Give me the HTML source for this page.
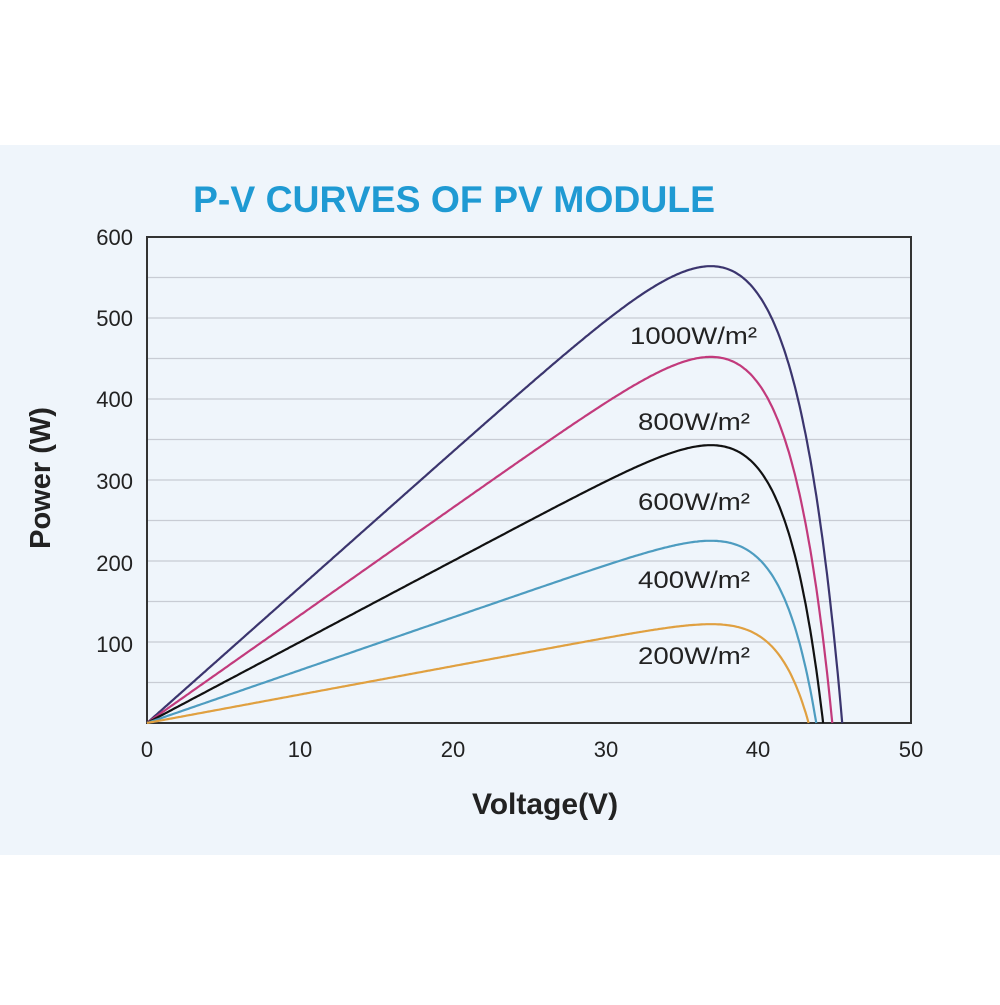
<!DOCTYPE html>
<html><head><style>
body{margin:0;background:#fff;width:1000px;height:1000px;overflow:hidden;font-family:"Liberation Sans",sans-serif}
</style></head><body>
<svg id="s" width="1000" height="1000" xmlns="http://www.w3.org/2000/svg">
<rect x="0" y="0" width="1000" height="1000" fill="#fff"/>
<rect x="0" y="145" width="1000" height="710" fill="#eff5fb"/>
<text x="454" y="212" text-anchor="middle" font-size="37" font-weight="bold" fill="#1f9ad3" font-family="Liberation Sans, sans-serif" textLength="522" lengthAdjust="spacingAndGlyphs">P-V CURVES OF PV MODULE</text>
<g id="grid" stroke="#c8ccd4" stroke-width="1.3"></g>
<rect x="147" y="237" width="764" height="486" fill="none" stroke="#333" stroke-width="2"/>
<g font-size="22" fill="#222" font-family="Liberation Sans, sans-serif">
<text x="133" y="245" text-anchor="end">600</text>
<text x="133" y="326" text-anchor="end">500</text>
<text x="133" y="407" text-anchor="end">400</text>
<text x="133" y="489" text-anchor="end">300</text>
<text x="133" y="571" text-anchor="end">200</text>
<text x="133" y="652" text-anchor="end">100</text>
<text x="147" y="757" text-anchor="middle">0</text>
<text x="300" y="757" text-anchor="middle">10</text>
<text x="453" y="757" text-anchor="middle">20</text>
<text x="606" y="757" text-anchor="middle">30</text>
<text x="758" y="757" text-anchor="middle">40</text>
<text x="911" y="757" text-anchor="middle">50</text>
</g>
<text x="545" y="814" text-anchor="middle" font-size="30" font-weight="bold" fill="#222">Voltage(V)</text>
<text transform="translate(50,478) rotate(-90)" text-anchor="middle" font-size="29" font-weight="bold" fill="#222">Power (W)</text>
<g id="curves" fill="none" stroke-width="2.2"></g>
<g font-size="24" fill="#222">
<text x="630" y="344" textLength="127" lengthAdjust="spacingAndGlyphs">1000W/m²</text>
<text x="638" y="430" textLength="112" lengthAdjust="spacingAndGlyphs">800W/m²</text>
<text x="638" y="510" textLength="112" lengthAdjust="spacingAndGlyphs">600W/m²</text>
<text x="638" y="588" textLength="112" lengthAdjust="spacingAndGlyphs">400W/m²</text>
<text x="638" y="664" textLength="112" lengthAdjust="spacingAndGlyphs">200W/m²</text>
</g>
</svg>
<script>
var NS="http://www.w3.org/2000/svg";
var g=document.getElementById("grid");
for(var p=50;p<600;p+=50){var y=723-p*0.81;var l=document.createElementNS(NS,"line");
l.setAttribute("x1",147);l.setAttribute("x2",911);l.setAttribute("y1",y);l.setAttribute("y2",y);g.appendChild(l);}
function X(v){return 147+v*15.28}
function Y(p){return 723-p*0.81}
var cs=[[564,45.5,"#3b356e"],[452,44.85,"#c23a7c"],[343,44.25,"#111"],[225,43.8,"#4d9cc0"],[122,43.3,"#e0a040"]];
var cg=document.getElementById("curves");
cs.forEach(function(c){
 var Pm=c[0],Voc=c[1],vp=36.9;
 var lo=0.5,hi=10;
 for(var i=0;i<60;i++){var a=(lo+hi)/2;var f=1-Math.exp((vp-Voc)/a)*(1+vp/a);if(f>0)lo=a;else hi=a;}
 var a=(lo+hi)/2;
 var pm=vp*(1-Math.exp((vp-Voc)/a));var k=Pm/pm;
 var d="";
 for(var v=0;v<=Voc+0.001;v+=0.1){var P=k*v*(1-Math.exp((v-Voc)/a));if(P<0)P=0;d+=(d?"L":"M")+X(v).toFixed(1)+","+Y(P).toFixed(1);}
 d+="L"+X(Voc).toFixed(1)+","+Y(0);
 var pa=document.createElementNS(NS,"path");pa.setAttribute("d",d);pa.setAttribute("stroke",c[2]);cg.appendChild(pa);
});
</script>
</body></html>
